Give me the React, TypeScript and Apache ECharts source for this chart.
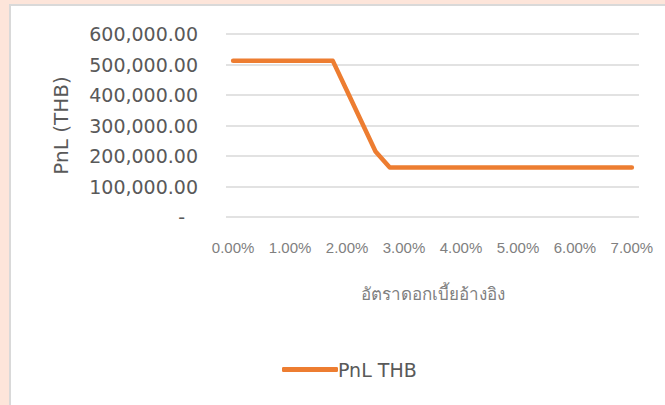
import React, { useEffect, useRef } from "react";
import * as echarts from "echarts";

const rates = [
  0.0, 0.25, 0.5, 0.75, 1.0, 1.25, 1.5, 1.75, 2.0, 2.25, 2.5, 2.75, 3.0, 3.25, 3.5,
  3.75, 4.0, 4.25, 4.5, 4.75, 5.0, 5.25, 5.5, 5.75, 6.0, 6.25, 6.5, 6.75, 7.0,
];
const pnlTHB = [
  512000, 512000, 512000, 512000, 512000, 512000, 512000, 512000, 413000, 314000,
  215000, 162000, 162000, 162000, 162000, 162000, 162000, 162000, 162000, 162000,
  162000, 162000, 162000, 162000, 162000, 162000, 162000, 162000, 162000,
];
const xTickLabels = [0, 1, 2, 3, 4, 5, 6, 7];
const seriesName = "PnL THB";
const yTitle = "PnL (THB)";
const xTitle = "อัตราดอกเบี้ยอ้างอิง";

function fmtY(v: number): string {
  if (v === 0) return "{z|-}";
  return v.toLocaleString("en-US", { minimumFractionDigits: 2, maximumFractionDigits: 2 });
}

export default function App() {
  const ref = useRef<HTMLDivElement>(null);
  useEffect(() => {
    if (!ref.current) return;
    const chart = echarts.init(ref.current, null, { renderer: "svg" });
    const data = rates.map((r, i) => [r / 100, pnlTHB[i]]);
    chart.setOption({
      animation: false,
      grid: { left: 226, right: 26, top: 34, bottom: 188 },
      legend: {
        left: 277,
        top: 355,
        itemWidth: 56,
        itemHeight: 5,
        itemGap: 10,
        textStyle: { fontFamily: "DejaVu Sans", fontSize: 19, color: "#595959", padding: [0, 0, 0, -5] },
        data: [{ name: seriesName, icon: "roundRect", itemStyle: { color: "#ED7D31" } }],
      },
      xAxis: {
        type: "value",
        min: -0.00125,
        max: 0.07125,
        axisLine: { show: false },
        axisTick: { show: false },
        splitLine: { show: false },
        axisLabel: {
          customValues: xTickLabels.map((v) => v / 100),
          formatter: (v: number) => (v * 100).toFixed(2) + "%",
          fontFamily: "Liberation Sans",
          fontSize: 15,
          color: "#808080",
          margin: 23,
        },
        name: xTitle,
        nameLocation: "middle",
        nameGap: 69,
        nameTextStyle: { fontFamily: "Liberation Sans", fontSize: 17, color: "#7f7f7f" },
      },
      yAxis: {
        type: "value",
        min: 0,
        max: 600000,
        interval: 100000,
        axisLine: { show: false },
        axisTick: { show: false },
        splitLine: { lineStyle: { color: "#d9d9d9", width: 1.5 } },
        axisLabel: {
          formatter: fmtY,
          fontFamily: "DejaVu Sans",
          fontSize: 19,
          color: "#595959",
          margin: 28,
          rich: { z: { fontFamily: "DejaVu Sans", fontSize: 19, color: "#595959", padding: [0, 13, 0, 0] } },
        },
        name: yTitle,
        nameLocation: "middle",
        nameGap: 155,
        nameRotate: 90,
        nameTextStyle: { fontFamily: "DejaVu Sans", fontSize: 20, color: "#595959" },
      },
      series: [
        {
          name: seriesName,
          type: "line",
          data,
          symbol: "none",
          showSymbol: false,
          lineStyle: { color: "#ED7D31", width: 4.5, cap: "round", join: "round" },
          itemStyle: { color: "#ED7D31" },
        },
      ],
    });
    return () => chart.dispose();
  }, []);
  return (
    <div style={{ position: "absolute", left: 0, top: 0, width: 665, height: 405, background: "#fde5da", overflow: "hidden" }}>
      <div
        style={{
          position: "absolute",
          left: 9,
          top: 4,
          width: 656,
          height: 401,
          background: "#ffffff",
          borderLeft: "2px solid #d9d9d9",
          borderTop: "2px solid #d9d9d9",
          boxSizing: "border-box",
        }}
      />
      <div ref={ref} style={{ position: "absolute", left: 0, top: 0, width: 665, height: 405 }} />
    </div>
  );
}
